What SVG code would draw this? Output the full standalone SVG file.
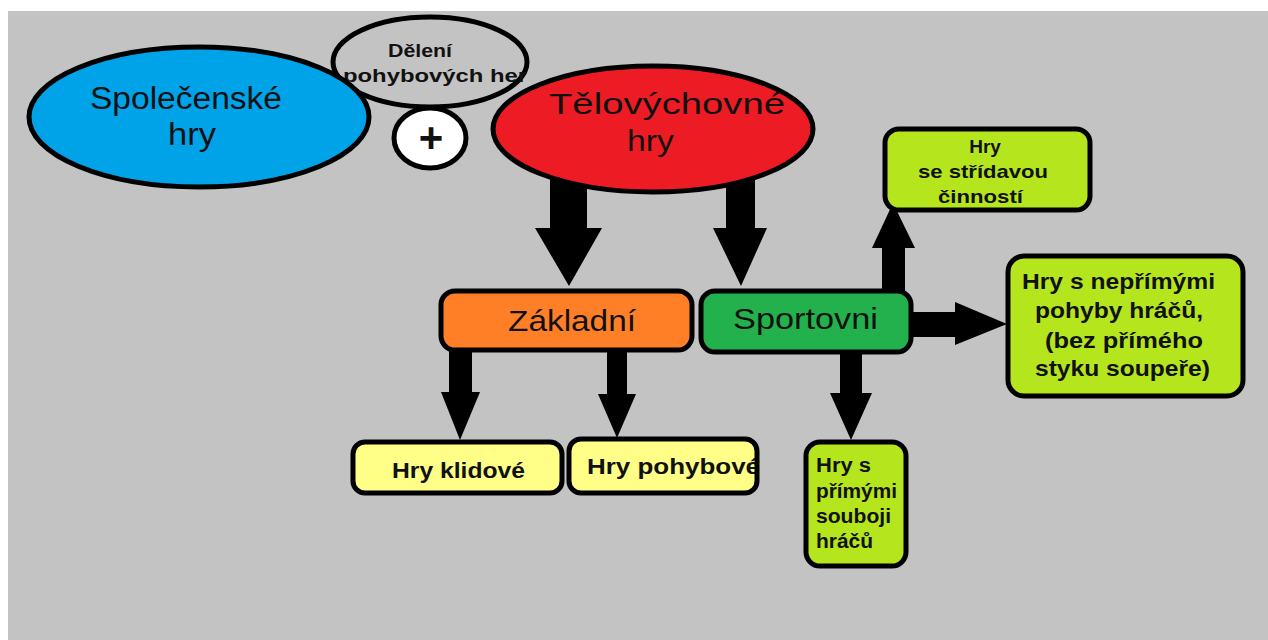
<svg xmlns="http://www.w3.org/2000/svg" width="1268" height="640" viewBox="0 0 1268 640">
<style>
.o{stroke:#000;stroke-width:5}
.t{font-family:"Liberation Sans",Arial,sans-serif;fill:#111}
.e{font-size:30px}
.b{font-weight:bold}
.a{fill:#000}
</style>
<rect width="1268" height="640" fill="#fff"/>
<rect x="8" y="11" width="1260" height="629" fill="#c3c3c3"/>
<g id="connectors">
<path class="a" d="M550 168H587V228H602L569 286L535 228H550Z"/>
<path class="a" d="M726 168H755V228H767L741 286L713 228H726Z"/>
<path class="a" d="M449 348H472V392H480L460 440L441 392H449Z"/>
<path class="a" d="M607 348H627V394H636L617 438L598 394H607Z"/>
<path class="a" d="M840 350H862V393H872L851 440L830 393H840Z"/>
<path class="a" d="M882 295V248H872L893 203L915 248H905V295Z"/>
<path class="a" d="M905 312H955V302L1007 324L955 345V337H905Z"/>
</g>
<g id="deleni">
<ellipse class="o" cx="430" cy="62" rx="97" ry="45" fill="#c3c3c3"/>
<text class="t b" x="388" y="57" font-size="19" fill="#222" textLength="64" lengthAdjust="spacingAndGlyphs">Dělení</text>
<text class="t b" x="343" y="82" font-size="19" fill="#222" textLength="184" lengthAdjust="spacingAndGlyphs">pohybových her</text>
</g>
<g id="plus">
<ellipse class="o" cx="430" cy="138" rx="36" ry="30" fill="#fff"/>
<text class="t b" x="431" y="152" font-size="42" text-anchor="middle" fill="#000">+</text>
</g>
<g id="spolecenske">
<ellipse class="o" cx="199" cy="117" rx="170" ry="70" fill="#00a2e8"/>
<text class="t" x="90" y="109" font-size="31" fill="#0d1a33" textLength="192" lengthAdjust="spacingAndGlyphs">Společenské</text>
<text class="t" x="168" y="145" font-size="31" fill="#0d1a33" textLength="48" lengthAdjust="spacingAndGlyphs">hry</text>
</g>
<g id="telovychovne">
<ellipse class="o" cx="653" cy="129" rx="160" ry="63" fill="#ed1c24"/>
<text class="t e" x="549" y="114" textLength="236" lengthAdjust="spacingAndGlyphs">Tělovýchovné</text>
<text class="t e" x="627" y="151" textLength="47" lengthAdjust="spacingAndGlyphs">hry</text>
</g>
<g id="zakladni">
<rect class="o" x="441" y="291" width="251" height="59" rx="14" fill="#ff7f27"/>
<text class="t" x="508" y="331" font-size="30" textLength="128" lengthAdjust="spacingAndGlyphs">Základní</text>
</g>
<g id="sportovni">
<rect class="o" x="701" y="291" width="210" height="61" rx="14" fill="#22b14c"/>
<text class="t" x="733" y="329" font-size="30" textLength="145" lengthAdjust="spacingAndGlyphs">Sportovni</text>
</g>
<g id="stridavou">
<rect class="o" x="885" y="129" width="205" height="81" rx="14" fill="#b5e61d"/>
<text class="t b" x="985" y="153" font-size="19" text-anchor="middle">Hry</text>
<text class="t b" x="918" y="178" font-size="19" textLength="130" lengthAdjust="spacingAndGlyphs">se střídavou</text>
<text class="t b" x="938" y="203" font-size="19" textLength="85" lengthAdjust="spacingAndGlyphs">činností</text>
</g>
<g id="neprimymi">
<rect class="o" x="1008" y="256" width="235" height="140" rx="16" fill="#b5e61d"/>
<text class="t b" x="1022" y="289" font-size="22" textLength="193" lengthAdjust="spacingAndGlyphs">Hry s nepřímými</text>
<text class="t b" x="1035" y="318" font-size="22" textLength="168" lengthAdjust="spacingAndGlyphs">pohyby hráčů,</text>
<text class="t b" x="1045" y="348" font-size="22" textLength="158" lengthAdjust="spacingAndGlyphs">(bez přímého</text>
<text class="t b" x="1035" y="376" font-size="22" textLength="175" lengthAdjust="spacingAndGlyphs">styku soupeře)</text>
</g>
<g id="primymi">
<rect class="o" x="806" y="442" width="100" height="124" rx="14" fill="#b5e61d"/>
<text class="t b" x="816" y="472" font-size="20" textLength="55" lengthAdjust="spacingAndGlyphs">Hry s</text>
<text class="t b" x="816" y="498" font-size="20" textLength="81" lengthAdjust="spacingAndGlyphs">přímými</text>
<text class="t b" x="816" y="523" font-size="20" textLength="75" lengthAdjust="spacingAndGlyphs">souboji</text>
<text class="t b" x="816" y="548" font-size="20" textLength="57" lengthAdjust="spacingAndGlyphs">hráčů</text>
</g>
<g id="klidove">
<rect class="o" x="353" y="442" width="209" height="51" rx="12" fill="#ffff88"/>
<text class="t b" x="392" y="478" font-size="22" textLength="133" lengthAdjust="spacingAndGlyphs">Hry klidové</text>
</g>
<g id="pohybove">
<rect x="569" y="439" width="188" height="54" rx="12" fill="#ffff88"/>
<text class="t b" x="587" y="474" font-size="22" textLength="173" lengthAdjust="spacingAndGlyphs">Hry pohybové</text>
<rect class="o" x="569" y="439" width="188" height="54" rx="12" fill="none"/>
</g>
</svg>
